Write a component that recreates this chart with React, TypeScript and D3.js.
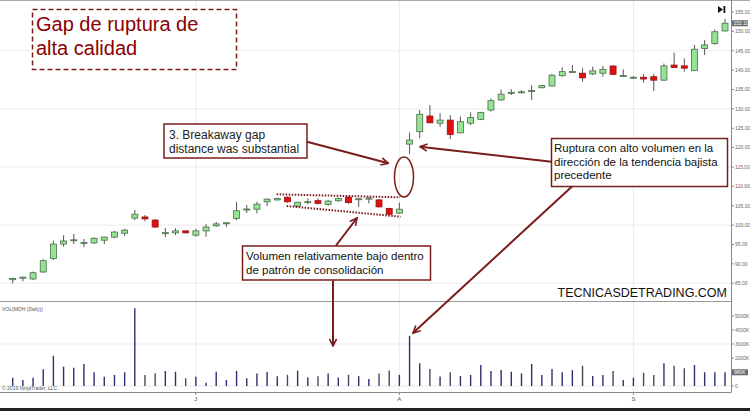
import React from "react";
import * as d3 from "d3";

// ---- DATA (daily OHLC) ----
const opens = [85.9, 86.5, 86.1, 87.9, 91.4, 95.1, 96.1, 95.4, 95.4, 96.1, 96.9, 97.9, 101.8, 102.1, 101.3, 98.0, 98.0, 98.5, 97.4, 98.5, 99.8, 100.5, 101.7, 104.1, 104.1, 106.0, 106.5, 107.2, 104.9, 106.0, 106.3, 105.35, 106.3, 107.2, 106.6, 106.9, 106.5, 104.3, 103.1, 120.9, 124.1, 128.15, 126.3, 127.1, 123.8, 126.3, 127.3, 129.7, 132.3, 134.2, 134.35, 134.7, 135.45, 135.9, 138.55, 139.6, 139.2, 139.0, 139.2, 141.06, 138.55, 138.1, 138.15, 138.3, 137.4, 141.3, 141.1, 139.85, 145.6, 146.9, 150.1];
const highs = [86.4, 86.7, 88.0, 91.2, 96.0, 97.4, 97.7, 96.4, 96.8, 97.0, 98.5, 99.0, 103.9, 102.6, 101.6, 99.2, 99.2, 98.7, 99.0, 100.3, 100.8, 100.7, 106.0, 105.2, 106.0, 106.9, 107.0, 107.4, 106.0, 106.9, 106.9, 106.5, 107.1, 107.4, 106.9, 107.3, 106.7, 104.5, 105.8, 123.9, 129.7, 131.0, 128.9, 128.4, 128.0, 129.1, 129.2, 132.7, 135.0, 135.1, 134.8, 136.1, 136.2, 139.0, 140.7, 141.3, 140.5, 140.9, 141.1, 141.2, 140.2, 138.5, 139.0, 139.0, 141.7, 144.5, 143.0, 146.5, 147.8, 150.5, 153.2];
const lows = [85.0, 85.5, 85.8, 87.7, 91.0, 94.4, 95.1, 94.3, 95.1, 95.1, 96.6, 97.2, 101.3, 101.0, 99.2, 96.9, 97.4, 97.8, 97.0, 97.0, 99.5, 99.5, 101.3, 103.1, 103.0, 104.9, 106.3, 105.8, 104.6, 105.35, 105.35, 105.0, 106.0, 105.5, 104.7, 105.6, 104.5, 102.6, 102.9, 118.3, 122.4, 126.3, 125.4, 122.2, 123.7, 125.8, 127.1, 129.3, 132.1, 133.6, 134.0, 132.3, 135.3, 135.8, 138.3, 139.3, 137.0, 138.7, 138.3, 138.8, 138.3, 137.8, 136.75, 134.6, 137.3, 140.6, 139.6, 139.8, 143.9, 146.5, 150.0];
const closes = [86.2, 86.55, 87.7, 90.8, 95.1, 95.9, 96.2, 95.5, 96.6, 96.9, 98.2, 98.7, 102.8, 101.6, 99.5, 98.05, 98.5, 98.0, 98.5, 99.5, 100.3, 100.6, 103.7, 104.15, 105.4, 106.7, 106.9, 106.0, 105.9, 106.05, 105.6, 106.2, 106.9, 105.8, 106.8, 106.95, 104.7, 102.8, 104.1, 121.95, 128.6, 126.4, 127.1, 123.4, 126.7, 127.8, 129.1, 132.1, 133.8, 134.25, 134.4, 134.75, 136.0, 138.7, 139.6, 139.65, 138.0, 139.8, 140.2, 138.9, 138.6, 138.15, 137.7, 137.4, 141.1, 140.7, 140.5, 145.4, 146.5, 149.9, 152.1];
// volume in thousands
const volumes = [590, 430, 590, 1190, 2160, 1380, 1310, 1570, 980, 660, 790, 980, 5550, 790, 910, 1070, 1020, 550, 660, 240, 1020, 430, 1070, 550, 900, 1000, 700, 800, 1100, 600, 700, 900, 600, 800, 700, 500, 900, 1100, 800, 3570, 1620, 1210, 670, 980, 710, 790, 1500, 1070, 1140, 1020, 900, 1570, 790, 1210, 980, 1140, 1450, 710, 790, 1070, 430, 590, 950, 790, 1620, 1450, 1260, 1500, 980, 980, 980];
const monthLabels = ["J", "A", "S"];
const monthStartIndex = [18, 38, 61];
const priceTicks = [85, 90, 95, 100, 105, 110, 115, 120, 125, 130, 135, 140, 145, 150, 155];
const priceGrid = [85, 100, 115, 130, 145];
const volumeTicks = [0, 2000, 3000, 4000, 5000];
const volumeGrid = [0, 3000];

const titleLines = ["Gap de ruptura de", "alta calidad"];
const breakawayLines = ["3. Breakaway gap", "distance was substantial"];
const rupturaLines = ["Ruptura con alto volumen en la", "dirección de la tendencia bajista", "precedente"];
const volumenLines = ["Volumen relativamente bajo dentro", "de patrón de consolidación"];
const watermark = "TECNICASDETRADING.COM";

const MAROON = "#7a1c1c";

export default function App() {
  const W = 750, H = 411;
  const axisX = 731;
  const idx = d3.range(opens.length);
  const x = d3.scalePoint<number>().domain(idx).range([12.7, 725]);
  const y = d3.scaleLinear().domain([85, 155]).range([283.2, 12]);
  const yv = d3.scaleLinear().domain([0, 5000]).range([386, 316]);
  const bw = 6;
  const lastC = closes[closes.length - 1];
  const lastV = volumes[volumes.length - 1];
  const font = "'Liberation Sans', Arial, sans-serif";

  return (
    <svg width={W} height={H} style={{ position: "absolute", left: 0, top: 0, background: "#fff" }} fontFamily={font}>
      <defs>
        <marker id="ah" viewBox="0 0 10 10" refX="9" refY="5" markerWidth="9" markerHeight="9" markerUnits="userSpaceOnUse" orient="auto">
          <path d="M1,1 L9,5 L1,9" fill="none" stroke={MAROON} strokeWidth="1.8" />
        </marker>
      </defs>
      <rect x={0} y={0} width={W} height={H} fill="#fff" />
      {/* frame */}
      <line x1={0} x2={W} y1={0.5} y2={0.5} stroke="#aaa" />
      <rect x={0} y={408} width={W} height={3} fill="#222" />
      {/* grid */}
      {priceGrid.map((v) => (
        <line key={"pg" + v} x1={0} x2={axisX} y1={y(v)} y2={y(v)} stroke="#ececec" />
      ))}
      {volumeGrid.map((v) => (
        <line key={"vg" + v} x1={0} x2={axisX} y1={yv(v)} y2={yv(v)} stroke="#ececec" />
      ))}
      {monthStartIndex.map((i) => (
        <line key={"mg" + i} x1={x(i)!} x2={x(i)!} y1={1} y2={392} stroke="#ececec" />
      ))}
      {/* pane separator and axes */}
      <line x1={0} x2={axisX} y1={301.5} y2={301.5} stroke="#999" />
      <line x1={0} x2={axisX} y1={392.5} y2={392.5} stroke="#888" />
      <line x1={axisX + 0.5} x2={axisX + 0.5} y1={0} y2={392.5} stroke="#888" />
      {priceTicks.map((v) => (
        <g key={"pt" + v}>
          <line x1={axisX} x2={axisX + 3} y1={y(v)} y2={y(v)} stroke="#888" />
          <text x={axisX + 4} y={y(v) + 1.8} fontSize={5} fill="#666">{v.toFixed(2)}</text>
        </g>
      ))}
      {volumeTicks.map((v) => (
        <g key={"vt" + v}>
          <line x1={axisX} x2={axisX + 3} y1={yv(v)} y2={yv(v)} stroke="#888" />
          <text x={axisX + 4} y={yv(v) + 1.8} fontSize={5} fill="#666">{v === 0 ? "0" : v + "K"}</text>
        </g>
      ))}
      {/* current value boxes */}
      <rect x={axisX + 1} y={y(lastC) - 3} width={16} height={6} fill="#6a6a6a" />
      <text x={axisX + 2.5} y={y(lastC) + 1.8} fontSize={5} fill="#fff">{lastC.toFixed(2)}</text>
      <rect x={axisX + 1} y={yv(lastV) - 3} width={16} height={6} fill="#6a6a6a" />
      <text x={axisX + 3} y={yv(lastV) + 1.8} fontSize={5} fill="#fff">{lastV + "K"}</text>
      {/* month labels */}
      {monthStartIndex.map((i, k) => (
        <g key={"ml" + i}>
          <line x1={x(i)!} x2={x(i)!} y1={392} y2={395} stroke="#888" />
          <text x={x(i)!} y={401} fontSize={6} fill="#555" textAnchor="middle">{monthLabels[k]}</text>
        </g>
      ))}
      {/* candles */}
      {idx.map((i) => {
        const up = closes[i] >= opens[i];
        const cx = x(i)!;
        const top = y(Math.max(opens[i], closes[i]));
        const bot = y(Math.min(opens[i], closes[i]));
        const h = Math.max(1, bot - top);
        return (
          <g key={"c" + i}>
            <line x1={cx} x2={cx} y1={y(highs[i])} y2={y(lows[i])} stroke="#555" strokeWidth={1} />
            <rect x={cx - bw / 2} y={top} width={bw} height={h} fill={up ? "#93e493" : "#e01010"} stroke={up ? "#4d6b4d" : "#9a1010"} strokeWidth={0.8} />
          </g>
        );
      })}
      {/* volume bars */}
      {idx.map((i) => (
        <line key={"v" + i} x1={x(i)!} x2={x(i)!} y1={yv(0)} y2={yv(volumes[i])} stroke={closes[i] >= opens[i] ? "#2e2e72" : "#4a4a5a"} strokeWidth={1.4} />
      ))}
      <text x={2} y={311} fontSize={5} fill="#555">VOL(MOH (Daily))</text>
      <text x={2} y={390} fontSize={5} fill="#555">© 2019 NinjaTrader, LLC</text>
      {/* top-right icon */}
      <path d="M718,6 L723,9.5 L718,13 Z" fill="#111" />
      <rect x={723.5} y={6} width={1.8} height={7} fill="#111" />
      {/* title */}
      <rect x={32.5} y={9.5} width={204} height={60} fill="#fff" stroke={MAROON} strokeWidth={1.5} strokeDasharray="5,3" />
      {titleLines.map((t, k) => (
        <text key={"t" + k} x={36} y={31 + k * 24} fontSize={20} fill="#8b0000">{t}</text>
      ))}
      {/* consolidation channel */}
      <line x1={276.7} y1={194.3} x2={400} y2={197.3} stroke={MAROON} strokeWidth={2} strokeDasharray="1.5,1.5" />
      <line x1={286.7} y1={206} x2={400.7} y2={216.7} stroke={MAROON} strokeWidth={2} strokeDasharray="1.5,1.5" />
      {/* ellipse */}
      <ellipse cx={404} cy={177} rx={9.5} ry={20} fill="none" stroke={MAROON} strokeWidth={1.5} />
      {/* breakaway box */}
      <rect x={164} y={124} width={143} height={34} fill="#fff" stroke={MAROON} strokeWidth={1.5} />
      {breakawayLines.map((t, k) => (
        <text key={"b" + k} x={169} y={138.5 + k * 14} fontSize={12} fill="#222">{t}</text>
      ))}
      <line x1={307} y1={141.7} x2={388.3} y2={163.3} stroke={MAROON} strokeWidth={2} markerEnd="url(#ah)" />
      {/* ruptura box */}
      <rect x={551.5} y={138.5} width={176} height={48} fill="#fff" stroke={MAROON} strokeWidth={1.5} />
      {rupturaLines.map((t, k) => (
        <text key={"r" + k} x={554} y={152 + k * 13.5} fontSize={11.5} fill="#111">{t}</text>
      ))}
      <line x1={551.5} y1={161.7} x2={420} y2={146.7} stroke={MAROON} strokeWidth={2} markerEnd="url(#ah)" />
      <line x1={572} y1={186.5} x2={413} y2={333} stroke={MAROON} strokeWidth={2} markerEnd="url(#ah)" />
      {/* volumen box */}
      <rect x={242.5} y={246} width={188} height={34} fill="#fff" stroke={MAROON} strokeWidth={1.5} />
      {volumenLines.map((t, k) => (
        <text key={"vl" + k} x={246} y={260 + k * 14} fontSize={11.5} fill="#111">{t}</text>
      ))}
      <line x1={336} y1={245.5} x2={357} y2={218} stroke={MAROON} strokeWidth={2} markerEnd="url(#ah)" />
      <line x1={333} y1={280.5} x2={333} y2={346} stroke={MAROON} strokeWidth={2} markerEnd="url(#ah)" />
      {/* watermark */}
      <text x={727} y={297} fontSize={12.5} fill="#111" textAnchor="end">{watermark}</text>
    </svg>
  );
}
